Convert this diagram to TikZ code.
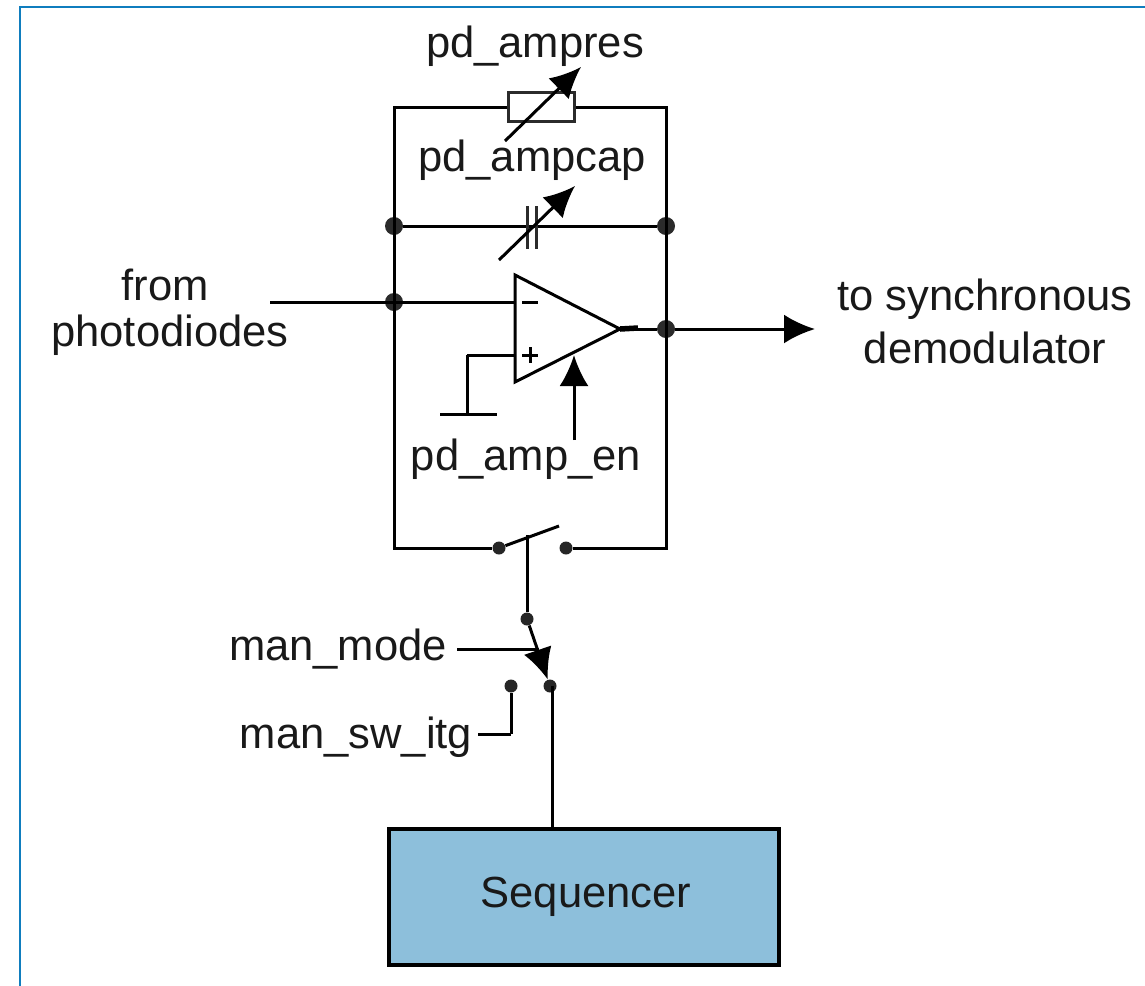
\documentclass[tikz,border=0pt]{standalone}
\usepackage{fontspec}
\setmainfont{Liberation Sans}
\usetikzlibrary{shapes,arrows,arrows.meta}
\definecolor{frameblue}{HTML}{0F7DBE}
\definecolor{seqblue}{HTML}{8DBFDB}
\definecolor{dotgray}{HTML}{2B2B2B}

\begin{document}
\begin{tikzpicture}[x=0.02cm,y=-0.02cm]
	\useasboundingbox (0,0) rectangle (1145,985);
	\draw[frameblue,line width=0.05cm] (1146,7) -- (20,7) -- (20,986);
	\begin{scope}
		[
			styleText/.style={font=\fontsize{24.8pt}{29pt}\selectfont, text=black!90, inner sep=0pt, align=center},
			styleDot/.style={circle, fill=dotgray, minimum width=0.36cm, inner sep=0pt},
			styleContact/.style={circle, fill=black!85, minimum width=0.26cm, inner sep=0pt},
			styleRes/.style={draw=dotgray, fill=white, line width=0.06cm, minimum width=1.32cm, minimum height=0.58cm, inner sep=0pt},
			styleSeq/.style={draw, fill=seqblue, line width=0.065cm, minimum width=7.8cm, minimum height=2.72cm, inner sep=0pt, text=black!90, font=\fontsize{24.8pt}{29pt}\selectfont},
		]
		\node(ampres)[styleText] at (535,46) {pd\_ampres};
		\node(ampcap)[styleText] at (532,160) {pd\_ampcap};
		\node(ampen)[styleText] at (526,459) {pd\_amp\_en};
		\node(from)[styleText] at (165,285) {from};
		\node(photo)[styleText] at (170,335) {photodiodes};
		\node(tosync)[styleText] at (985,299) {to synchronous};
		\node(demod)[styleText] at (985,348) {demodulator};
		\node(manmode)[styleText] at (338,649) {man\_mode};
		\node(mansw)[styleText] at (356,737) {man\_sw\_itg};

		\node(res)[styleRes] at (541.5,107) {};
		\node(seq)[styleSeq] at (584,897) {\hspace*{0.08cm}Sequencer};

		\node(capl)[styleDot] at (394,226) {};
		\node(capr)[styleDot] at (666,226) {};
		\node(inv)[styleDot] at (394,302) {};
		\node(out)[styleDot] at (666,329) {};

		\node(swa)[styleContact] at (499,548) {};
		\node(swb)[styleContact] at (566,548) {};
		\node(mana)[styleContact] at (527,619) {};
		\node(manb)[styleContact] at (550,686) {};
		\node(manc)[styleContact] at (511,686) {};

		\coordinate(tl) at (394,107);
		\coordinate(tr) at (666,107);
		\coordinate(bl) at (394,548);
		\coordinate(br) at (666,548);
		\coordinate(opt) at (515,275);
		\coordinate(opb) at (515,382);
		\coordinate(opo) at (620,329);
		\coordinate(optip) at (638,328);
		\coordinate(opm) at (515,302);
		\coordinate(opp) at (515,355);
		\coordinate(gndc) at (467,355);
		\coordinate(gnd) at (467,414);
		\coordinate(gndl) at (440,414);
		\coordinate(gndr) at (497,414);
		\coordinate(enb) at (574,440);
		\coordinate(ent) at (574,355);
		\coordinate(inw) at (270,302);
		\coordinate(outw) at (815,329);
		\coordinate(swend) at (559,526);
		\coordinate(swmid) at (527,535);
		\coordinate(mcw) at (457,649);
		\coordinate(mcm) at (539,649);
		\coordinate(mbt) at (552,686);
		\coordinate(mbb) at (552,829);
		\coordinate(mscn) at (511,734);
		\coordinate(msw) at (478,734);
		\coordinate(rsb) at (505,141);
		\coordinate(rst) at (581,67);
		\coordinate(cpb) at (499,260);
		\coordinate(cpt) at (575,186);
		\coordinate(pla) at (527,206);
		\coordinate(plb) at (527,249);
		\coordinate(plc) at (536,206);
		\coordinate(pld) at (536,249);
		\coordinate(mna) at (522,302);
		\coordinate(mnb) at (538,302);
		\coordinate(psa) at (522,355);
		\coordinate(psb) at (538,355);
		\coordinate(psc) at (530,347);
		\coordinate(psd) at (530,363);
	\end{scope}
	\begin{scope}
		[ wire/.style = {line width=0.06cm},
		cost/.style = {line width=0.06cm, -{Latex[length=0.62cm,width=0.58cm]}},
		>=stealth']
		% feedback loop
		\draw[wire] (res) -- (tl) -- (bl) -- (swa);
		\draw[wire] (res) -- (tr) -- (br) -- (swb);
		\path
		(capl) edge[wire] (capr)
		(inw) edge[wire] (opm)
		(opp) edge[wire] (gndc)
		(gndc) edge[wire] (gnd)
		(gndl) edge[wire] (gndr)
		(pla) edge[wire,dotgray] (plb)
		(plc) edge[wire,dotgray] (pld)
		(mna) edge[wire] (mnb)
		(psa) edge[wire] (psb)
		(psc) edge[wire] (psd)
		(rsb) edge[cost] (rst)
		(cpb) edge[cost] (cpt)
		(enb) edge[cost] (ent)
		(opo) edge[wire] (out)
		(out) edge[cost] (outw)
		(opo) edge[line width=0.11cm] (optip)

		(swa) edge[wire] (swend)
		(swmid) edge[wire] (mana)
		(mcw) edge[wire] (mcm)
		(mana) edge[cost] (manb)
		(mbt) edge[wire] (mbb)
		(manc) edge[wire] (mscn)
		(mscn) edge[wire] (msw);
		\draw[wire,line join=miter] (opt) -- (opo) -- (opb) -- cycle;
	\end{scope}
\end{tikzpicture}
\end{document}
